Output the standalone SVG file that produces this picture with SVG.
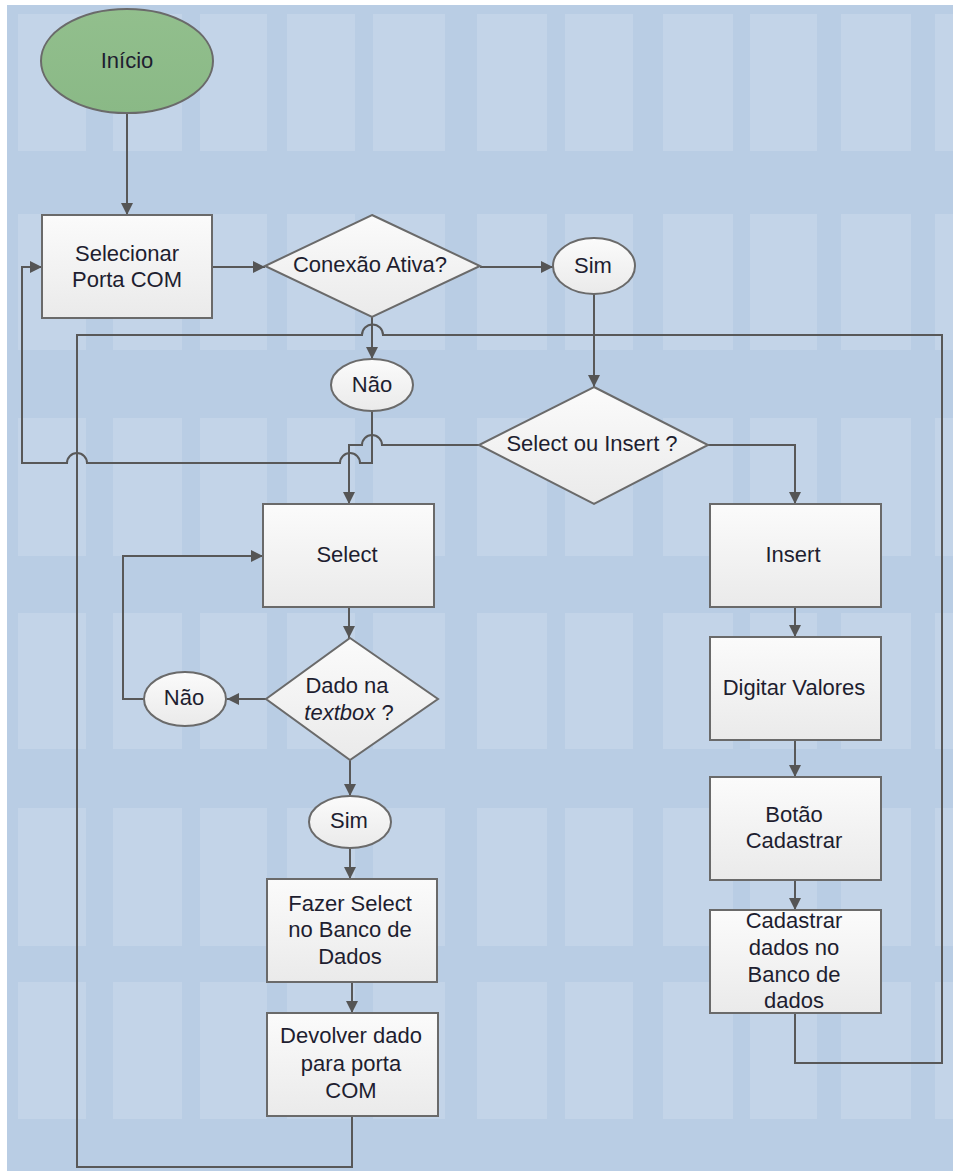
<svg xmlns="http://www.w3.org/2000/svg" width="953" height="1171" viewBox="0 0 953 1171">
  <defs>
    <linearGradient id="boxFill" x1="0" y1="0" x2="0" y2="1">
      <stop offset="0" stop-color="#fbfbfb"/>
      <stop offset="1" stop-color="#eaeaea"/>
    </linearGradient>
    <linearGradient id="startFill" x1="0" y1="0" x2="0" y2="1">
      <stop offset="0" stop-color="#92bf8d"/>
      <stop offset="1" stop-color="#8ab986"/>
    </linearGradient>
    <marker id="arrow" viewBox="0 0 12 12" refX="12" refY="6" markerWidth="12" markerHeight="12" markerUnits="userSpaceOnUse" orient="auto">
      <path d="M0,0 L12,6 L0,12 z" fill="#555555"/>
    </marker>
    <style>
      .shape { fill: url(#boxFill); stroke: #6a6a6a; stroke-width: 2; }
      .start { fill: url(#startFill); stroke: #6a6a6a; stroke-width: 2; }
      .label { font-family: "Liberation Sans", Arial, sans-serif; font-size: 22px; fill: #1e1e30; text-anchor: middle; }
      .edge { fill: none; stroke: #585858; stroke-width: 2; }
      .cell { fill: #c3d4e8; }
    </style>
  </defs>

  <!-- canvas -->
  <rect x="0" y="0" width="953" height="1171" fill="#ffffff"/>
  <rect x="7" y="5" width="946" height="1166" fill="#b9cde4"/>

  <!-- background grid of light panels -->
  <g id="background-grid">
    <g id="row-1">
      <rect class="cell" x="18" y="14" width="68" height="137"/>
      <rect class="cell" x="113" y="14" width="69" height="137"/>
      <rect class="cell" x="200" y="14" width="67" height="137"/>
      <rect class="cell" x="287" y="14" width="68" height="137"/>
      <rect class="cell" x="373" y="14" width="72" height="137"/>
      <rect class="cell" x="477" y="14" width="70" height="137"/>
      <rect class="cell" x="565" y="14" width="68" height="137"/>
      <rect class="cell" x="663" y="14" width="70" height="137"/>
      <rect class="cell" x="750" y="14" width="67" height="137"/>
      <rect class="cell" x="841" y="14" width="70" height="137"/>
      <rect class="cell" x="935" y="14" width="18" height="137"/>
    </g>
    <g id="row-2">
      <rect class="cell" x="18" y="214" width="68" height="136"/>
      <rect class="cell" x="113" y="214" width="69" height="136"/>
      <rect class="cell" x="200" y="214" width="67" height="136"/>
      <rect class="cell" x="287" y="214" width="68" height="136"/>
      <rect class="cell" x="373" y="214" width="72" height="136"/>
      <rect class="cell" x="477" y="214" width="70" height="136"/>
      <rect class="cell" x="565" y="214" width="68" height="136"/>
      <rect class="cell" x="663" y="214" width="70" height="136"/>
      <rect class="cell" x="750" y="214" width="67" height="136"/>
      <rect class="cell" x="841" y="214" width="70" height="136"/>
      <rect class="cell" x="935" y="214" width="18" height="136"/>
    </g>
    <g id="row-3">
      <rect class="cell" x="18" y="418" width="68" height="138"/>
      <rect class="cell" x="113" y="418" width="69" height="138"/>
      <rect class="cell" x="200" y="418" width="67" height="138"/>
      <rect class="cell" x="287" y="418" width="68" height="138"/>
      <rect class="cell" x="373" y="418" width="72" height="138"/>
      <rect class="cell" x="477" y="418" width="70" height="138"/>
      <rect class="cell" x="565" y="418" width="68" height="138"/>
      <rect class="cell" x="663" y="418" width="70" height="138"/>
      <rect class="cell" x="750" y="418" width="67" height="138"/>
      <rect class="cell" x="841" y="418" width="70" height="138"/>
      <rect class="cell" x="935" y="418" width="18" height="138"/>
    </g>
    <g id="row-4">
      <rect class="cell" x="18" y="613" width="68" height="136"/>
      <rect class="cell" x="113" y="613" width="69" height="136"/>
      <rect class="cell" x="200" y="613" width="67" height="136"/>
      <rect class="cell" x="287" y="613" width="68" height="136"/>
      <rect class="cell" x="373" y="613" width="72" height="136"/>
      <rect class="cell" x="477" y="613" width="70" height="136"/>
      <rect class="cell" x="565" y="613" width="68" height="136"/>
      <rect class="cell" x="663" y="613" width="70" height="136"/>
      <rect class="cell" x="750" y="613" width="67" height="136"/>
      <rect class="cell" x="841" y="613" width="70" height="136"/>
      <rect class="cell" x="935" y="613" width="18" height="136"/>
    </g>
    <g id="row-5">
      <rect class="cell" x="18" y="808" width="68" height="138"/>
      <rect class="cell" x="113" y="808" width="69" height="138"/>
      <rect class="cell" x="200" y="808" width="67" height="138"/>
      <rect class="cell" x="287" y="808" width="68" height="138"/>
      <rect class="cell" x="373" y="808" width="72" height="138"/>
      <rect class="cell" x="477" y="808" width="70" height="138"/>
      <rect class="cell" x="565" y="808" width="68" height="138"/>
      <rect class="cell" x="663" y="808" width="70" height="138"/>
      <rect class="cell" x="750" y="808" width="67" height="138"/>
      <rect class="cell" x="841" y="808" width="70" height="138"/>
      <rect class="cell" x="935" y="808" width="18" height="138"/>
    </g>
    <g id="row-6">
      <rect class="cell" x="18" y="982" width="68" height="137"/>
      <rect class="cell" x="113" y="982" width="69" height="137"/>
      <rect class="cell" x="200" y="982" width="67" height="137"/>
      <rect class="cell" x="287" y="982" width="68" height="137"/>
      <rect class="cell" x="373" y="982" width="72" height="137"/>
      <rect class="cell" x="477" y="982" width="70" height="137"/>
      <rect class="cell" x="565" y="982" width="68" height="137"/>
      <rect class="cell" x="663" y="982" width="70" height="137"/>
      <rect class="cell" x="750" y="982" width="67" height="137"/>
      <rect class="cell" x="841" y="982" width="70" height="137"/>
      <rect class="cell" x="935" y="982" width="18" height="137"/>
    </g>
  </g>

  <!-- connectors -->
  <g id="connectors">
    <path class="edge" d="M127,113 V215" marker-end="url(#arrow)"/>
    <path class="edge" d="M212,267 H265" marker-end="url(#arrow)"/>
    <path class="edge" d="M480,267 H553" marker-end="url(#arrow)"/>
    <path class="edge" d="M594,294 V387" marker-end="url(#arrow)"/>
    <path class="edge" d="M372,317 V359" marker-end="url(#arrow)"/>
    <!-- Não: back to Selecionar Porta COM, hopping over two verticals -->
    <path class="edge" d="M372,412 V463 H360 A10,10 0 0 0 340,463 H87 A10,10 0 0 0 67,463 H22 V267 H42" marker-end="url(#arrow)"/>
    <!-- Select ou Insert ? : left branch to Select -->
    <path class="edge" d="M479,445 H382 A10,10 0 0 0 362,445 H349 V504" marker-end="url(#arrow)"/>
    <!-- right branch to Insert -->
    <path class="edge" d="M708,445 H795 V504" marker-end="url(#arrow)"/>
    <path class="edge" d="M795,607 V637" marker-end="url(#arrow)"/>
    <path class="edge" d="M795,740 V777" marker-end="url(#arrow)"/>
    <path class="edge" d="M795,880 V910" marker-end="url(#arrow)"/>
    <!-- return loops -->
    <path class="edge" d="M795,1013 V1063 H942 V335 H383 A10,10 0 0 0 362,335 H77 V1167 H352 V1116"/>
    <!-- Select branch -->
    <path class="edge" d="M349,607 V638" marker-end="url(#arrow)"/>
    <path class="edge" d="M266,699 H227" marker-end="url(#arrow)"/>
    <path class="edge" d="M144,699 H123 V556 H263" marker-end="url(#arrow)"/>
    <path class="edge" d="M350,760 V796" marker-end="url(#arrow)"/>
    <path class="edge" d="M350,848 V879" marker-end="url(#arrow)"/>
    <path class="edge" d="M352,982 V1013" marker-end="url(#arrow)"/>
  </g>

  <!-- nodes -->
  <g id="inicio">
    <ellipse class="start" cx="127" cy="61" rx="86" ry="52"/>
    <text class="label" x="127" y="68">Início</text>
  </g>

  <g id="selecionar-porta">
    <rect class="shape" x="42" y="215" width="170" height="103"/>
    <text class="label" x="127" y="261">Selecionar</text>
    <text class="label" x="127" y="287">Porta COM</text>
  </g>

  <g id="conexao-ativa">
    <polygon class="shape" points="372,215 480,266 372,317 265,266"/>
    <text class="label" x="370" y="272">Conexão Ativa?</text>
  </g>

  <g id="sim-conexao">
    <ellipse class="shape" cx="594" cy="266" rx="41" ry="28"/>
    <text class="label" x="593" y="273">Sim</text>
  </g>

  <g id="nao-conexao">
    <ellipse class="shape" cx="372" cy="385" rx="41" ry="26"/>
    <text class="label" x="372" y="392">Não</text>
  </g>

  <g id="select-ou-insert">
    <polygon class="shape" points="594,387 708,445 594,504 479,445"/>
    <text class="label" x="592" y="451">Select ou Insert ?</text>
  </g>

  <g id="select">
    <rect class="shape" x="263" y="504" width="171" height="103"/>
    <text class="label" x="347" y="562">Select</text>
  </g>

  <g id="dado-textbox">
    <polygon class="shape" points="350,638 438,699 350,760 266,699"/>
    <text class="label" x="347" y="693">Dado na</text>
    <text class="label" x="349" y="720"><tspan font-style="italic">textbox</tspan> ?</text>
  </g>

  <g id="nao-textbox">
    <ellipse class="shape" cx="185" cy="699" rx="41" ry="27"/>
    <text class="label" x="184" y="705">Não</text>
  </g>

  <g id="sim-textbox">
    <ellipse class="shape" cx="350" cy="822" rx="41" ry="26"/>
    <text class="label" x="349" y="828">Sim</text>
  </g>

  <g id="fazer-select">
    <rect class="shape" x="267" y="879" width="170" height="103"/>
    <text class="label" x="350" y="911">Fazer Select</text>
    <text class="label" x="350" y="937">no Banco de</text>
    <text class="label" x="350" y="964">Dados</text>
  </g>

  <g id="devolver-dado">
    <rect class="shape" x="267" y="1013" width="171" height="103"/>
    <text class="label" x="351" y="1043">Devolver dado</text>
    <text class="label" x="351" y="1071">para porta</text>
    <text class="label" x="351" y="1098">COM</text>
  </g>

  <g id="insert">
    <rect class="shape" x="710" y="504" width="171" height="103"/>
    <text class="label" x="793" y="562">Insert</text>
  </g>

  <g id="digitar-valores">
    <rect class="shape" x="710" y="637" width="171" height="103"/>
    <text class="label" x="794" y="695">Digitar Valores</text>
  </g>

  <g id="botao-cadastrar">
    <rect class="shape" x="710" y="777" width="171" height="103"/>
    <text class="label" x="794" y="822">Botão</text>
    <text class="label" x="794" y="848">Cadastrar</text>
  </g>

  <g id="cadastrar-dados">
    <rect class="shape" x="710" y="910" width="171" height="103"/>
    <text class="label" x="794" y="928">Cadastrar</text>
    <text class="label" x="794" y="955">dados no</text>
    <text class="label" x="794" y="982">Banco de</text>
    <text class="label" x="794" y="1008">dados</text>
  </g>
</svg>
